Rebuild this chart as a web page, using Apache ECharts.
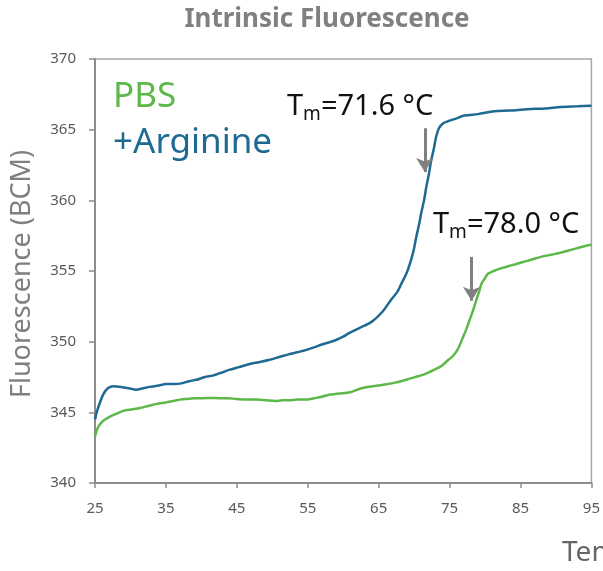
<!DOCTYPE html>
<html>
<head>
<meta charset="utf-8">
<script src="https://cdn.jsdelivr.net/npm/echarts@6/dist/echarts.min.js"></script>
<style>html,body{margin:0;padding:0;background:#fff}#c{width:603px;height:571px}</style>
</head>
<body>
<div id="c"></div>
<script>
const xTicks = [25, 35, 45, 55, 65, 75, 85, 95];
const yTicks = [340, 345, 350, 355, 360, 365, 370];

const argT = [25.0,25.3,25.7,26.2,26.8,27.6,28.7,29.8,30.8,31.8,32.7,34.0,35.0,36.2,37.2,38.3,39.3,40.5,41.6,42.8,43.9,45.3,46.7,48.1,49.5,50.9,52.3,53.5,54.7,55.9,57.0,58.0,58.9,60.0,60.8,62.4,64.0,65.5,66.8,67.6,68.2,68.9,69.4,69.9,70.3,70.7,71.0,71.4,71.7,72.1,72.4,72.8,73.1,73.5,74.1,74.8,75.7,77.1,79.0,81.3,83.5,86.0,88.5,90.7,93.0,95.0];
const argF = [344.5,345.1,345.7,346.3,346.7,346.85,346.8,346.7,346.6,346.7,346.8,346.9,347.0,347.0,347.05,347.2,347.3,347.5,347.6,347.8,348.0,348.2,348.4,348.55,348.7,348.9,349.1,349.25,349.4,349.6,349.8,349.95,350.1,350.35,350.6,351.0,351.4,352.1,353.0,353.5,354.1,354.8,355.5,356.4,357.4,358.3,359.1,360.0,360.9,361.9,362.8,363.7,364.5,365.1,365.45,365.6,365.75,366.0,366.1,366.3,366.35,366.45,366.5,366.6,366.65,366.7];

const pbsT = [25.0,25.3,25.7,26.3,27.1,28.0,29.0,30.1,31.3,32.5,33.7,34.9,36.0,37.0,37.9,39.0,40.2,41.3,42.5,43.7,44.9,46.3,47.7,49.1,50.5,51.4,52.3,53.5,54.7,55.9,57.0,58.0,58.9,60.8,62.6,65.0,67.3,69.5,71.5,72.8,73.9,74.8,75.5,76.2,76.7,77.3,77.8,78.3,78.8,79.2,79.5,80.0,80.4,81.2,82.3,83.7,85.1,86.5,87.9,89.3,90.7,92.5,94.4,95.0];
const pbsF = [343.3,343.8,344.15,344.45,344.7,344.9,345.1,345.2,345.3,345.45,345.6,345.7,345.8,345.9,345.95,346.0,346.0,346.02,346.0,346.0,345.95,345.9,345.9,345.85,345.8,345.85,345.85,345.9,345.9,346.0,346.1,346.25,346.3,346.4,346.7,346.9,347.1,347.4,347.7,348.0,348.3,348.7,349.0,349.5,350.1,350.8,351.5,352.2,353.0,353.6,354.1,354.5,354.8,355.0,355.2,355.4,355.6,355.8,356.0,356.15,356.3,356.55,356.8,356.85];

// Annotation arrows: [temperature, fromValue, toValue]
const argArrow = [71.5, 365.1, 362.0];
const pbsArrow = [78.1, 356.0, 352.9];
const argTm = '71.6';
const pbsTm = '78.0';

const zip = (a, b) => a.map((v, i) => [v, b[i]]);
const FONT = 'Noto Sans';
const blue = '#1f6a92';
const green = '#5db84a';
const arrowMark = (a) => ({
  silent: true,
  symbol: ['none', 'arrow'],
  symbolSize: [13, 14],
  label: { show: false },
  lineStyle: { color: '#808080', width: 3, type: 'solid' },
  data: [[{ coord: [a[0], a[1]] }, { coord: [a[0], a[2]] }]]
});
const tmRich = {
  a: { fontSize: 29, fontFamily: FONT, fill: '#111', lineHeight: 34 },
  b: { fontSize: 19, fontFamily: FONT, fill: '#111', lineHeight: 19, verticalAlign: 'bottom' }
};

const chart = echarts.init(document.getElementById('c'));
chart.setOption({
  animation: false,
  grid: { left: 95, right: 9, top: 59, bottom: 88, show: true, borderColor: '#a6a6a6', borderWidth: 1.5 },
  xAxis: {
    type: 'value', min: xTicks[0], max: xTicks[xTicks.length - 1], interval: 10,
    splitLine: { show: false },
    axisLine: { lineStyle: { color: '#8c8c8c', width: 2 } },
    axisTick: { show: true, length: 5, lineStyle: { color: '#8c8c8c', width: 1.5 } },
    axisLabel: { color: '#595959', fontSize: 15, fontFamily: FONT, margin: 18 }
  },
  yAxis: {
    type: 'value', min: yTicks[0], max: yTicks[yTicks.length - 1], interval: 5,
    splitLine: { show: false },
    axisLine: { show: true, lineStyle: { color: '#8c8c8c', width: 2 } },
    axisTick: { show: true, length: 6, lineStyle: { color: '#8c8c8c', width: 1.5 } },
    axisLabel: { color: '#595959', fontSize: 15, fontFamily: FONT, margin: 19 }
  },
  series: [
    { name: '+Arginine', type: 'line', data: zip(argT, argF), showSymbol: false, smooth: 0.3,
      lineStyle: { color: blue, width: 2.5 }, itemStyle: { color: blue }, markLine: arrowMark(argArrow) },
    { name: 'PBS', type: 'line', data: zip(pbsT, pbsF), showSymbol: false, smooth: 0.3,
      lineStyle: { color: green, width: 2.5 }, itemStyle: { color: green }, markLine: arrowMark(pbsArrow) }
  ],
  graphic: [
    { type: 'text', x: 327, y: 20, style: { text: 'Intrinsic Fluorescence', font: 'bold 26px "Noto Sans"', fill: '#808080', align: 'center', verticalAlign: 'middle' } },
    { type: 'text', x: 22, y: 274, rotation: Math.PI / 2, style: { text: 'Fluorescence (BCM)', font: '27px "Noto Sans"', fill: '#7f7f7f', align: 'center', verticalAlign: 'middle' } },
    { type: 'text', x: 562, y: 553, style: { text: 'Temperature (°C)', font: '28px "Noto Sans"', fill: '#666', align: 'left', verticalAlign: 'middle' } },
    { type: 'text', x: 113, y: 97, style: { text: 'PBS', font: '35px "Noto Sans"', fill: green, align: 'left', verticalAlign: 'middle' } },
    { type: 'text', x: 113, y: 143, style: { text: '+Arginine', font: '35px "Noto Sans"', fill: blue, align: 'left', verticalAlign: 'middle' } },
    { type: 'text', x: 287, y: 107, style: { text: '{a|T}{b|m}{a|=' + argTm + ' °C}', rich: tmRich, align: 'left', verticalAlign: 'middle' } },
    { type: 'text', x: 433, y: 225, style: { text: '{a|T}{b|m}{a|=' + pbsTm + ' °C}', rich: tmRich, align: 'left', verticalAlign: 'middle' } }
  ]
});
</script>
</body>
</html>
